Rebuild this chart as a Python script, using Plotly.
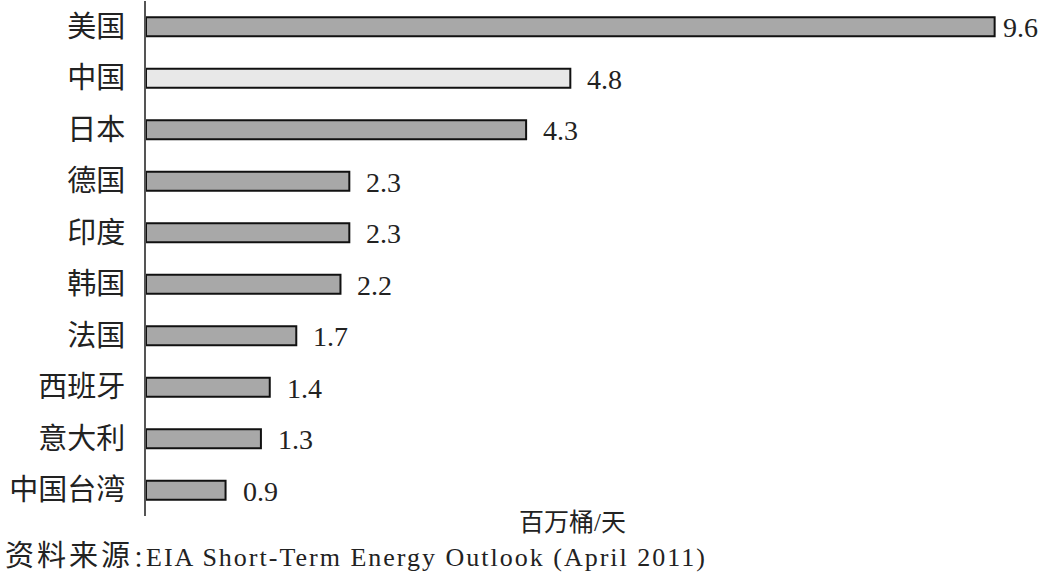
import plotly.graph_objects as go

categories = ["美国", "中国", "日本", "德国", "印度", "韩国", "法国", "西班牙", "意大利", "中国台湾"]
values = [9.6, 4.8, 4.3, 2.3, 2.3, 2.2, 1.7, 1.4, 1.3, 0.9]
labels = ["9.6", "4.8", "4.3", "2.3", "2.3", "2.2", "1.7", "1.4", "1.3", "0.9"]
colors = ["#a8a8a8" if c != "中国" else "#e8e8e8" for c in categories]

FONT = "Liberation Serif, Times New Roman, Noto Sans CJK SC, serif"

fig = go.Figure()
fig.add_trace(go.Bar(
    y=categories, x=values, orientation="h",
    marker=dict(color=colors, line=dict(color="#111111", width=2)),
    width=0.37, hoverinfo="skip",
))
vmax = max(values)
for c, v, t in zip(categories, values, labels):
    fig.add_annotation(x=v, y=c, text=t, showarrow=False, xanchor="left",
                       xshift=6 if v == vmax else 15, yshift=-1,
                       font=dict(size=28, color="#222222", family=FONT))

fig.add_annotation(xref="paper", yref="paper", x=0.482, y=0.018, yanchor="top",
                   text="百万桶/天", showarrow=False,
                   font=dict(size=25, color="#222222", family=FONT))
fig.add_annotation(xref="paper", yref="paper", x=-0.162, xanchor="left", y=-0.042, yanchor="top",
                   text="<span style='font-size:29px;letter-spacing:3px'>资料来源</span>"
                        "<span style='font-size:22px;letter-spacing:-9px'>：</span>"
                        "<span style='letter-spacing:2px'>EIA Short-Term Energy Outlook (April 2011)</span>",
                   showarrow=False,
                   font=dict(size=26, color="#222222", family=FONT))

fig.update_layout(
    width=1041, height=572,
    margin=dict(l=146, r=11, t=1, b=56),
    paper_bgcolor="white", plot_bgcolor="white",
    showlegend=False,
    font=dict(family=FONT, color="#222222"),
    xaxis=dict(range=[0, 10.0], visible=False, fixedrange=True),
    yaxis=dict(autorange="reversed", showline=True, linecolor="#555555", linewidth=2,
               showgrid=False, ticks="", ticklabelstandoff=13,
               tickfont=dict(size=29, color="#222222", family=FONT), fixedrange=True),
)

fig.write_html("out.html")
